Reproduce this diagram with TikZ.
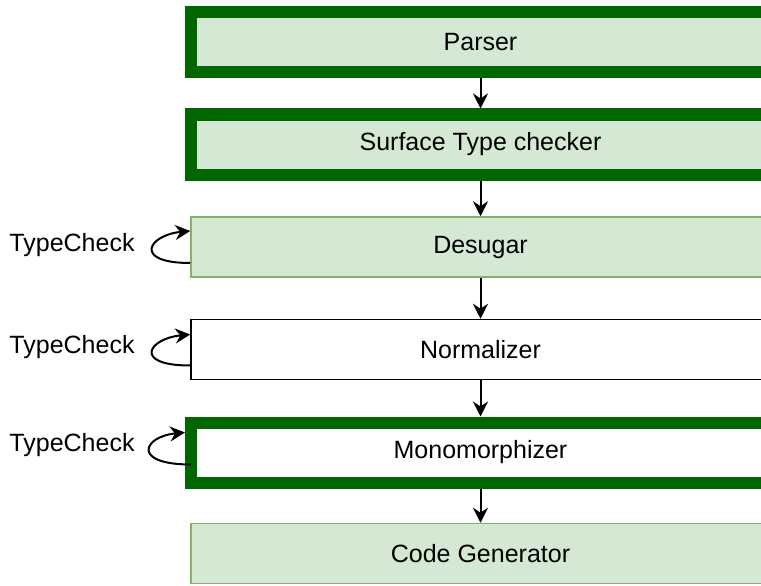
\documentclass[tikz,border=0pt]{standalone}
\usepackage{fontspec}
\setmainfont{Liberation Sans}
\usetikzlibrary{arrows.meta}
\definecolor{fillg}{HTML}{D5E8D4}
\definecolor{edgeg}{HTML}{82B366}
\definecolor{darkg}{HTML}{006600}
\tikzset{
  stage/.style={rectangle, minimum width=579pt, minimum height=60pt, inner sep=0pt,
    font=\fontsize{25}{29}\selectfont, text=black},
  thickstage/.style={stage, draw=darkg, line width=12pt},
  lightstage/.style={stage, draw=edgeg, fill=fillg, line width=1.5pt},
  arr/.style={draw=black, line width=2pt, -{Stealth[length=15pt,width=15pt,inset=5pt]}},
  lbl/.style={font=\fontsize{25}{29}\selectfont, inner sep=0pt},
}
\begin{document}
\begin{tikzpicture}[x=1pt,y=-1pt]
\useasboundingbox (0,0) rectangle (761,586);
\clip (0,0) rectangle (761,586);
\node[thickstage, fill=fillg] (p) at (480.5,42.5) {Parser};
\node[thickstage, fill=fillg] (s) at (480.5,144.5) {Surface Type checker};
\node[lightstage] (d) at (480.5,247) {Desugar};
\node[stage, draw=black, fill=white, line width=1.5pt] (n) at (480.5,349.5) {Normalizer};
\node[thickstage, fill=white] (m) at (480.5,452.5) {Monomorphizer};
\node[lightstage] (c) at (480.5,553.5) {Code Generator};
\draw[arr] (p) -- (s);
\draw[arr] (s) -- (d);
\draw[arr] (d) -- (n);
\draw[arr] (n) -- (m);
\draw[arr] (m) -- (c);
\node[lbl] (t1) at (72,245) {TypeCheck};
\node[lbl] (t2) at (72,347) {TypeCheck};
\node[lbl] (t3) at (72,445) {TypeCheck};
\draw[arr] ([yshift=-16pt]d.west) .. controls +(-58,0) and +(-42,4) .. ([yshift=16pt]d.west);
\draw[arr] ([yshift=-16pt]n.west) .. controls +(-58,0) and +(-42,4) .. ([yshift=15pt]n.west);
\draw[arr] ([xshift=6pt,yshift=-12pt]m.west) .. controls +(-60,0) and +(-42,4) .. ([yshift=20pt]m.west);
\end{tikzpicture}
\end{document}
